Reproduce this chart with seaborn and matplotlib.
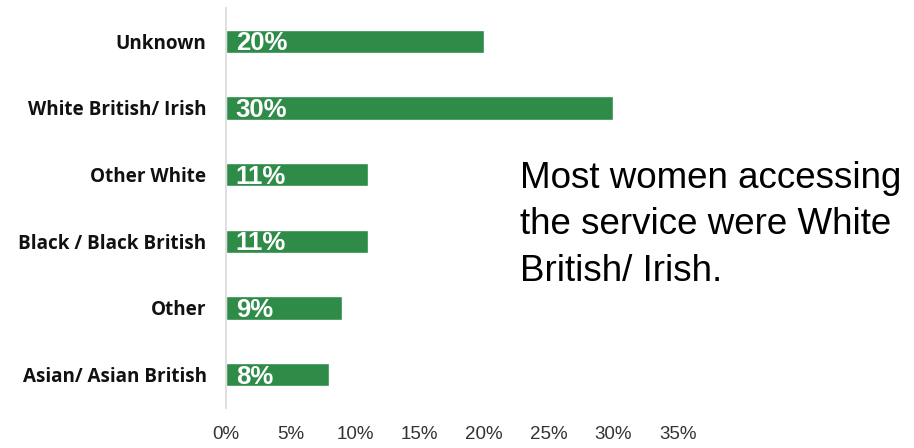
import matplotlib
matplotlib.use("Agg")
import matplotlib.pyplot as plt
import seaborn as sns
import pandas as pd

categories = ["Unknown", "White British/ Irish", "Other White",
              "Black / Black British", "Other", "Asian/ Asian British"]
shares = [20, 30, 11, 11, 9, 8]
tick_values = [0, 5, 10, 15, 20, 25, 30, 35]
tick_labels = ["0%", "5%", "10%", "15%", "20%", "25%", "30%", "35%"]
note = "Most women accessing\nthe service were White\nBritish/ Irish."

df = pd.DataFrame({"group": categories, "share": shares})

sns.set_style("white")
fig = plt.figure(figsize=(9.14, 4.48), dpi=100)
ax = fig.add_axes([0.2473, 0.0893, 0.4945, 0.893])

sns.barplot(data=df, x="share", y="group", orient="h", color="#2e8b48",
            width=0.35, saturation=1, ax=ax)

ax.set_xlim(0, 35)
ax.set_ylim(len(categories) - 0.5, -0.5)
ax.set_xticks(tick_values)
ax.set_xticklabels(tick_labels, fontsize=13.5, color="#333333",
                   family="Liberation Sans")
ax.tick_params(axis="x", length=0, pad=13)
ax.tick_params(axis="y", length=0, pad=14)
for lbl in ax.get_yticklabels():
    lbl.set_fontsize(13.6)
    lbl.set_fontweight("bold")
    lbl.set_family("Open Sans")
    lbl.set_color("#111111")
ax.set_xlabel("")
ax.set_ylabel("")

for s in ["top", "right", "bottom"]:
    ax.spines[s].set_visible(False)
ax.spines["left"].set_color("#d9d9d9")
ax.spines["left"].set_linewidth(1.2)

for i, v in enumerate(shares):
    ax.text(0.75, i + 0.03, f"{v}%", va="center", ha="left", color="white",
            fontsize=18.5, fontweight="bold", family="Liberation Sans")

fig.text(520 / 914, 1 - 161 / 448, note, ha="left", va="top",
         fontsize=26.5, family="Liberation Sans", color="black",
         linespacing=1.42)

fig.savefig("out.png", dpi=100)
